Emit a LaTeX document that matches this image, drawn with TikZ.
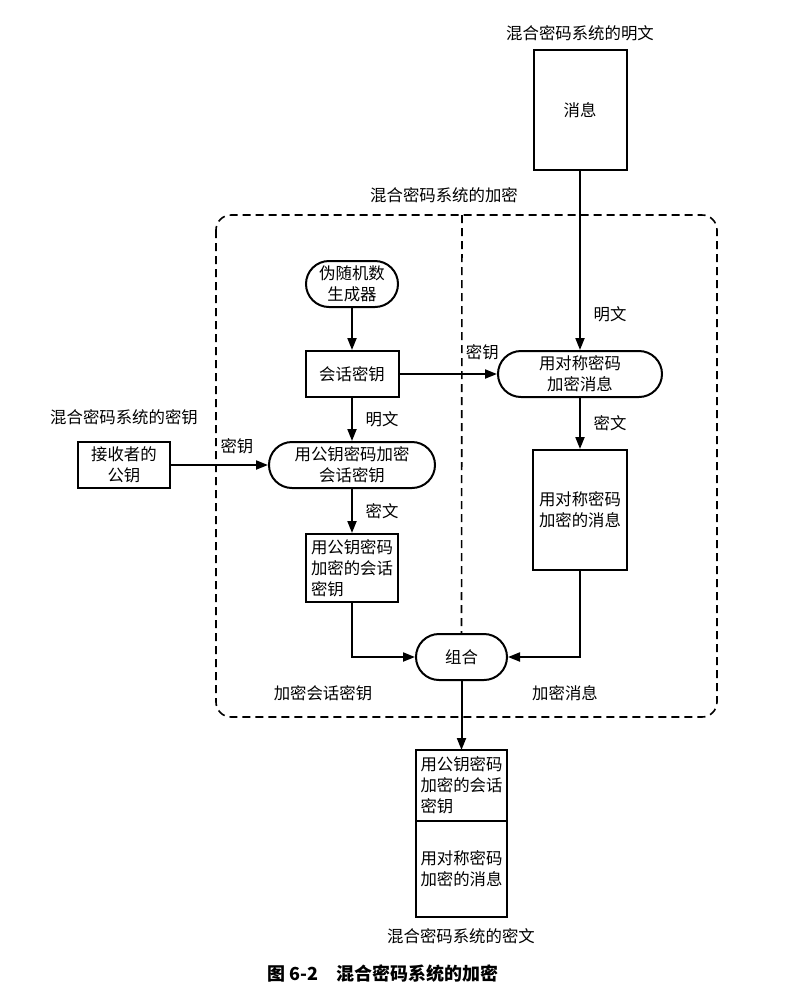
\documentclass[tikz,border=0pt]{standalone}
\usepackage{fontspec}
\setmainfont{Noto Sans CJK SC}
\usepackage{tikz}
\usetikzlibrary{arrows.meta, positioning}
\tikzset{
    caixa/.style     = {draw, line width=1pt, inner sep=2pt, align=center},
    processo/.style  = {draw, line width=1pt, rounded corners=11.5pt, minimum height=23pt,
                        inner sep=2pt, align=center},
    rotulo/.style    = {inner sep=0pt},
    seta/.style      = {-{Triangle[length=6pt,width=4.5pt]}, line width=1pt},
    tracejado/.style = {dash pattern=on 4pt off 2.5pt, line width=0.8pt},
}

\begin{document}
\begin{tikzpicture}[x=0.5pt, y=-0.5pt, font=\fontsize{8.2}{10.5}\selectfont]
    \useasboundingbox (0,0) rectangle (800,993);
    % moldura da cifra hibrida
    \draw[tracejado, rounded corners=7.5pt] (216,215) rectangle (717,717);
    \coordinate (divtopo) at (462,215);

    % entradas
    \node[rotulo] (tplano) at (580,33) {混合密码系统的明文};
    \node[caixa, minimum width=46.5pt, minimum height=60pt] (msg) at (580,110) {消息};
    \node[rotulo] (tchave) at (124,417) {混合密码系统的密钥};
    \node[caixa, minimum width=46pt, minimum height=23pt] (receptor) at (124,465) {接收者的\\公钥};
    \node[rotulo] (tcifra) at (444,195) {混合密码系统的加密};

    % lado da chave de sessao
    \node[processo, minimum width=46pt] (gerador) at (352,284) {伪随机数\\生成器};
    \node[caixa, minimum width=46.5pt, minimum height=23pt] (sessao) at (352,374) {会话密钥};
    \node[processo, minimum width=83pt] (cifpub) at (352,465) {用公钥密码加密\\会话密钥};
    \node[caixa, minimum width=46pt, minimum height=34pt, align=left] (chavecif) at (352,568)
        {用公钥密码\\加密的会话\\密钥};
    \node[processo, minimum width=45.5pt] (juntar) at (461.5,657) {组合};
    \node[rotulo] at (323,693) {加密会话密钥};

    % lado da mensagem
    \node[processo, minimum width=82pt] (cifsim) at (580,374) {用对称密码\\加密消息};
    \node[caixa, minimum width=47pt, minimum height=60pt] (msgcif) at (580,510) {用对称密码\\加密的消息};
    \node[rotulo] at (565,693) {加密消息};

    % saida
    \node[caixa, outer sep=0pt, minimum width=45.5pt, minimum height=35.5pt, align=left] (saichave)
        at (461.5,785.5) {用公钥密码\\加密的会话\\密钥};
    \node[caixa, outer sep=0pt, minimum width=45.5pt, minimum height=48pt, anchor=north] (saimsg)
        at (saichave.south) {用对称密码\\加密的消息};
    \node[rotulo] (tsaida) at (461,936) {混合密码系统的密文};
    \node[rotulo, font=\fontsize{9}{11}\selectfont\bfseries] (legenda) at (383,974) {图 6-2\quad 混合密码系统的加密};

    \draw[tracejado] (divtopo) -- (juntar.north);

    % ligacoes
    \draw[seta] (msg) -- node[pos=0.8, right=3pt] {明文} (cifsim);
    \draw[seta] (gerador) -- (sessao);
    \draw[seta] (sessao) -- node[right=3pt] {明文} (cifpub);
    \draw[seta] (receptor) -- node[pos=0.68, above=1.5pt] {密钥} (cifpub);
    \draw[seta] (cifpub) -- node[right=3pt] {密文} (chavecif);
    \draw[seta] (sessao) -- node[pos=0.85, above=3pt] {密钥} (cifsim);
    \draw[seta] (cifsim) -- node[right=3pt] {密文} (msgcif);
    \draw[seta] (chavecif.south) |- (juntar.west);
    \draw[seta] (msgcif.south) |- (juntar.east);
    \draw[seta] (juntar) -- (saichave);
\end{tikzpicture}
\end{document}
